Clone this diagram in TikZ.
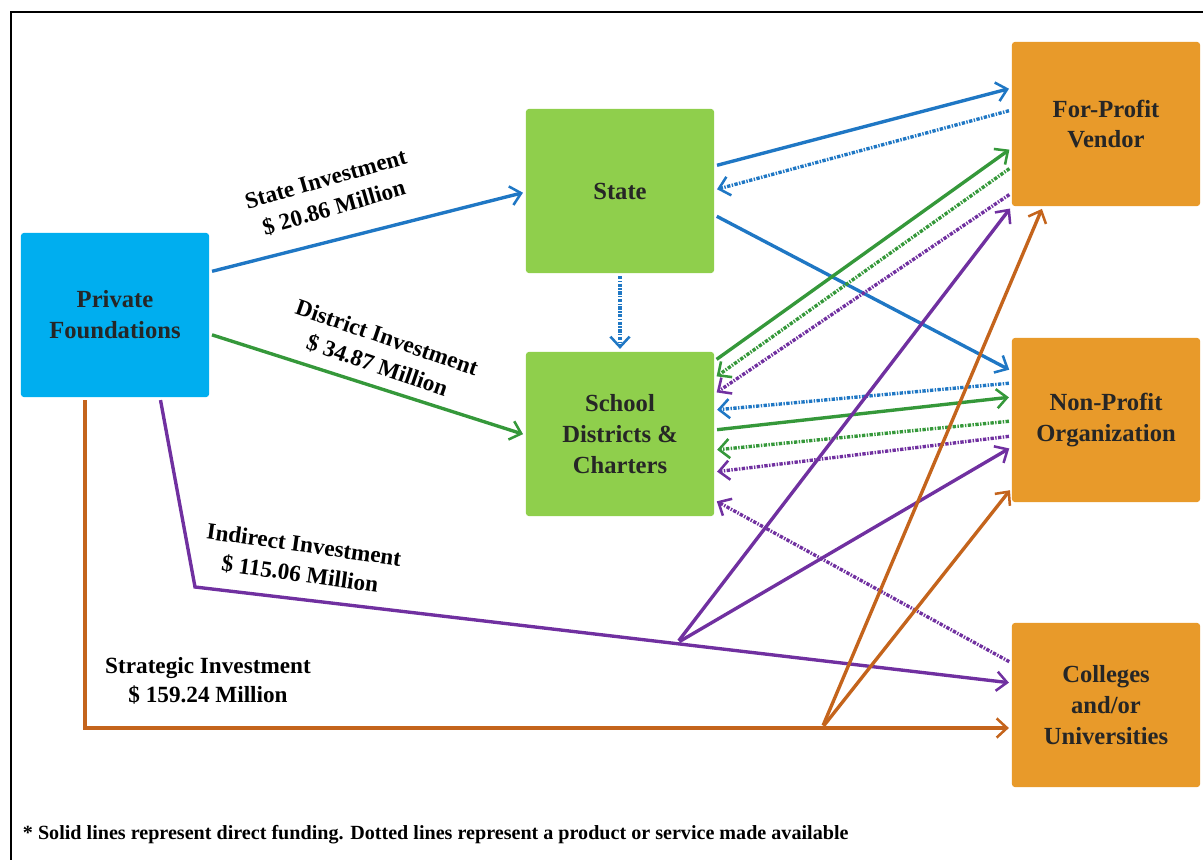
\documentclass[tikz,border=0pt]{standalone}
\usepackage{fontspec}
\setmainfont{Liberation Serif}
\usetikzlibrary{arrows.meta}
\tikzset{>={Straight Barb[length=2.6mm,width=4.8mm,line width=1.8pt]}}
\definecolor{pfblue}{HTML}{00AEEF}
\definecolor{govgreen}{HTML}{8FCF4C}
\definecolor{orgorange}{HTML}{E89A2A}
\definecolor{lblue}{HTML}{1F77C4}
\definecolor{lgreen}{HTML}{35983A}
\definecolor{lpurple}{HTML}{7030A0}
\definecolor{lorange}{HTML}{C4641C}
\tikzset{
  box/.style={rectangle, rounded corners=2pt, minimum width=4.7cm, minimum height=4.1cm,
    align=center, text=black!85, font=\fontsize{17.5}{22}\selectfont\bfseries},
  fund/.style={line width=2.4pt, shorten >=2pt, shorten <=2pt},
  service/.style={fund, dash pattern=on 2.4pt off 1pt on 1pt off 1pt},
  amount/.style={align=center, font=\fontsize{16.5}{21}\selectfont\bfseries},
}

\begin{document}
\begin{tikzpicture}[x=0.025cm, y=-0.025cm]
    \useasboundingbox (0,0) rectangle (1203,860);
    \draw[line width=1.5pt] (11,860) -- (11,12) -- (1203,12);

    % boxes
    \node[box, fill=pfblue] (pf) at (115,315) {Private\\Foundations};
    \node[box, fill=govgreen] (state) at (620,191) {State};
    \node[box, fill=govgreen] (sd) at (620,434) {School\\Districts \&\\Charters};
    \node[box, fill=orgorange] (fpv) at (1106,124) {For-Profit\\Vendor};
    \node[box, fill=orgorange] (npo) at (1106,420) {Non-Profit\\Organization};
    \node[box, fill=orgorange] (col) at (1106,705) {Colleges\\and/or\\Universities};

    \coordinate (ibend) at (195,587);
    \coordinate (ifork) at (677,643);
    \coordinate (sbend) at (85,728);
    \coordinate (sfork) at (822,728);

    % blue
    \draw[fund, lblue, ->] (pf.east |- 0,272) -- (state.west |- 0,192);
    \draw[fund, lblue, ->] (state.east |- 0,166) -- (fpv.west |- 0,88);
    \draw[service, lblue, ->] (fpv.west |- 0,110) -- (state.east |- 0,190);
    \draw[fund, lblue, ->] (state.east |- 0,215) -- (npo.west |- 0,371);
    \draw[service, lblue, ->] (state.south) -- (sd.north);
    \draw[service, lblue, ->] (npo.west |- 0,383) -- (sd.east |- 0,410);

    % green
    \draw[fund, lgreen, ->] (pf.east |- 0,334) -- (sd.west |- 0,435);
    \draw[fund, lgreen, ->] (sd.east |- 0,361) -- (fpv.west |- 0,148);
    \draw[service, lgreen, ->] (fpv.west |- 0,167) -- (sd.east |- 0,378);
    \draw[fund, lgreen, ->] (sd.east |- 0,430) -- (npo.west |- 0,397);
    \draw[service, lgreen, ->] (npo.west |- 0,421) -- (sd.east |- 0,450);

    % purple
    \draw[service, lpurple, ->] (fpv.west |- 0,193) -- (sd.east |- 0,394);
    \draw[service, lpurple, ->] (npo.west |- 0,436) -- (sd.east |- 0,472);
    \draw[service, lpurple, ->] (col.west |- 0,663) -- (sd.east |- 0,500);
    \draw[fund, lpurple, ->] (pf.south -| 160,0) -- (ibend) -- (col.west |- 0,683);
    \draw[fund, lpurple, ->] (ifork) -- (fpv.south west);
    \draw[fund, lpurple, ->] (ifork) -- (npo.west |- 0,447);

    % orange
    \draw[fund, lorange, ->] (pf.south -| sbend) -- (sbend) -- (col.west |- 0,728);
    \draw[fund, lorange, ->] (sfork) -- (fpv.south -| 1043,0);
    \draw[fund, lorange, ->] (sfork) -- (npo.west |- 0,488);

    % labels
    \node[amount, rotate=16] (lstate) at (330,194) {State Investment\\\$ 20.86 Million};
    \node[amount, rotate=-19] (ldist) at (382,352) {District Investment\\\$ 34.87 Million};
    \node[amount, rotate=-8] (lind) at (302,560) {Indirect Investment\\\$ 115.06 Million};
    \node[amount] (lstrat) at (208,681) {Strategic Investment\\\$ 159.24 Million};

    \node[anchor=west, font=\fontsize{14.3}{16}\selectfont\bfseries] (note) at (18,835)
      {* Solid lines represent direct funding. Dotted lines represent a product or service made available};
\end{tikzpicture}
\end{document}
